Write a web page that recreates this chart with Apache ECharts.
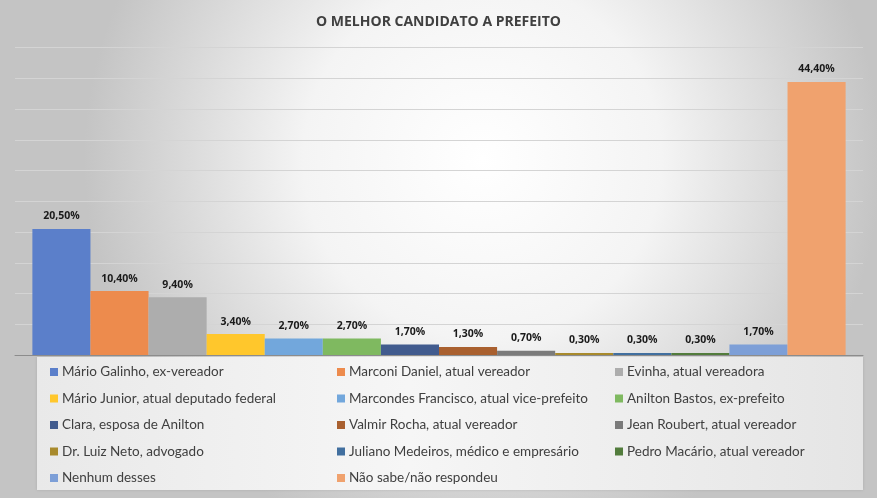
<!DOCTYPE html>
<html>
<head>
<meta charset="utf-8">
<script src="https://cdn.jsdelivr.net/npm/echarts@6/dist/echarts.min.js"></script>
<style>
html,body{margin:0;padding:0;}
#c{width:877px;height:498px;}
</style>
</head>
<body>
<div id="c"></div>
<script>
const titleText = 'O MELHOR CANDIDATO A PREFEITO';
const candidates = [
  'Mário Galinho, ex-vereador',
  'Marconi Daniel, atual vereador',
  'Evinha, atual vereadora',
  'Mário Junior, atual deputado federal',
  'Marcondes Francisco, atual vice-prefeito',
  'Anilton Bastos, ex-prefeito',
  'Clara, esposa de Anilton',
  'Valmir Rocha, atual vereador',
  'Jean Roubert, atual vereador',
  'Dr. Luiz Neto, advogado',
  'Juliano Medeiros, médico e empresário',
  'Pedro Macário, atual vereador',
  'Nenhum desses',
  'Não sabe/não respondeu'
];
const values = [20.5, 10.4, 9.4, 3.4, 2.7, 2.7, 1.7, 1.3, 0.7, 0.3, 0.3, 0.3, 1.7, 44.4];
const colors = ['#5b7fca', '#ed8b4d', '#adadad', '#ffc72c', '#72a7dc', '#7fb960', '#415b8e', '#a9602f', '#7b7b7b', '#a88a2c', '#416f9f', '#527c3c', '#7d9fd7', '#f0a26e'];
const yMax = 50, yInterval = 5;

const chart = echarts.init(document.getElementById('c'));
const series = candidates.map((name, i) => ({
  name: name,
  type: 'bar',
  data: [values[i]],
  barGap: '0%',
  barCategoryGap: '4.1%',
  barMinHeight: 2,
  itemStyle: { color: colors[i] },
  label: {
    show: true, position: 'top', distance: 7,
    fontFamily: 'Open Sans', fontWeight: 'bold', fontSize: 10.5, color: '#1a1a1a',
    formatter: p => p.value.toFixed(2).replace('.', ',') + '%'
  }
}));

function legendCol(indices, left) {
  return {
    orient: 'vertical', left: left, top: 359,
    itemWidth: 8, itemHeight: 8, itemGap: 10.5,
    icon: 'rect',
    data: indices.map(i => candidates[i]),
    textStyle: { fontFamily: 'Lato', fontSize: 13.5, color: '#404040', lineHeight: 16, padding: [0,0,0,-1] },
    selectedMode: false
  };
}

chart.setOption({
  backgroundColor: {
    type: 'radial', x: 0.55, y: 0.32, r: 0.8,
    colorStops: [{offset: 0, color: '#ffffff'}, {offset: 0.45, color: '#f4f4f4'}, {offset: 1, color: '#c4c4c4'}]
  },
  animation: false,
  title: {
    text: titleText, left: 'center', top: 10,
    textStyle: { fontFamily: 'Open Sans', fontWeight: 'bold', fontSize: 14, color: '#404040' }
  },
  graphic: [{
    type: 'rect', z: -1,
    shape: { x: 37, y: 357, width: 826, height: 133 },
    style: {
      fill: { type: 'linear', x: 0, y: 0, x2: 1, y2: 0,
        colorStops: [{offset: 0, color: '#e9e9e9'}, {offset: 0.45, color: '#f6f6f6'}, {offset: 1, color: '#e5e5e5'}] },
      shadowBlur: 3, shadowColor: 'rgba(0,0,0,0.12)'
    }
  }],
  legend: [
    legendCol([0,3,6,9,12], 45),
    legendCol([1,4,7,10,13], 332),
    legendCol([2,5,8,11], 610)
  ],
  grid: { left: 15, right: 14, top: 47.5, bottom: 143 },
  xAxis: {
    type: 'category', data: [''],
    axisLine: { show: true, lineStyle: { color: '#8c8c8c', width: 1 } },
    axisTick: { show: false }, axisLabel: { show: false }
  },
  yAxis: {
    type: 'value', min: 0, max: yMax, interval: yInterval,
    axisLabel: { show: false }, axisLine: { show: false }, axisTick: { show: false },
    splitLine: { lineStyle: { color: '#d4d4d4', width: 1 } }
  },
  series: series
});
</script>
</body>
</html>
